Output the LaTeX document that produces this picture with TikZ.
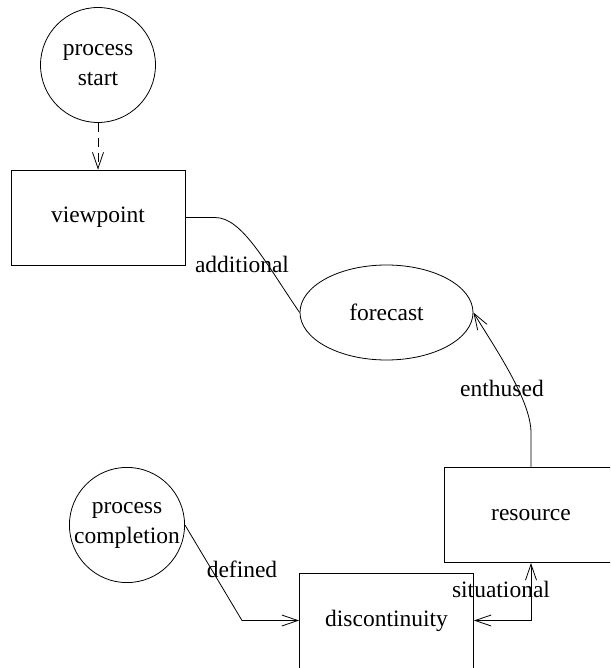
\documentclass[tikz,border=0pt]{standalone}
\usepackage{fontspec}
\setmainfont{Liberation Serif}
\usetikzlibrary{shapes.geometric,arrows.meta}
\begin{document}
\begin{tikzpicture}[x=1pt,y=-1pt,
  every node/.style={font=\fontsize{23.5}{30}\selectfont, inner sep=0pt},
  boxnode/.style={draw, line width=0.9pt, minimum width=174pt, minimum height=95pt},
  circnode/.style={draw, circle, line width=0.8pt, minimum size=115pt, align=center},
  ellnode/.style={draw, ellipse, line width=0.8pt, minimum width=173pt, minimum height=95pt},
  conn/.style={line width=0.8pt},
  tip/.style={-{Straight Barb[length=16pt,width=11pt,line width=0.8pt]}},
  lbl/.style={}]
\useasboundingbox (0,0) rectangle (610,668);
\clip (0,0) rectangle (610,668);
\node[circnode] (ps) at (98,65) {process\\start};
\node[boxnode] (vp) at (98,217.5) {viewpoint};
\node[ellnode] (fc) at (386.5,312.5) {forecast};
\node[boxnode] (rs) at (531,515) {resource};
\node[boxnode] (ds) at (386.5,620.5) {discontinuity};
\node[circnode] (pc) at (127,525) {process\\completion};
\coordinate (a1) at (215,217.5);
\coordinate (e1) at (531,433);
\coordinate (d1) at (242,620.5);
\coordinate (s1) at (531,620.5);
\draw[conn, dashed, dash pattern=on 9pt off 6pt, tip] (ps.south) -- (vp.north);
\draw[conn] (vp.east) -- (a1) .. controls (242,217.5) and (265,262) .. (fc.west);
\draw[conn, tip] (rs.north) -- (e1) .. controls (531,400) and (495,348) .. (fc.east);
\draw[conn, tip] (pc.east) -- (d1) -- (ds.west);
\draw[conn, {Straight Barb[length=16pt,width=11pt,line width=0.8pt]}-{Straight Barb[length=16pt,width=11pt,line width=0.8pt]}] (ds.east) -- (s1) -- (rs.south);
\node[lbl] (la) at (242,264) {additional};
\node[lbl] (le) at (502,388) {enthused};
\node[lbl] (ls) at (501,589) {situational};
\node[lbl] (ld) at (242,569) {defined};
\end{tikzpicture}
\end{document}
